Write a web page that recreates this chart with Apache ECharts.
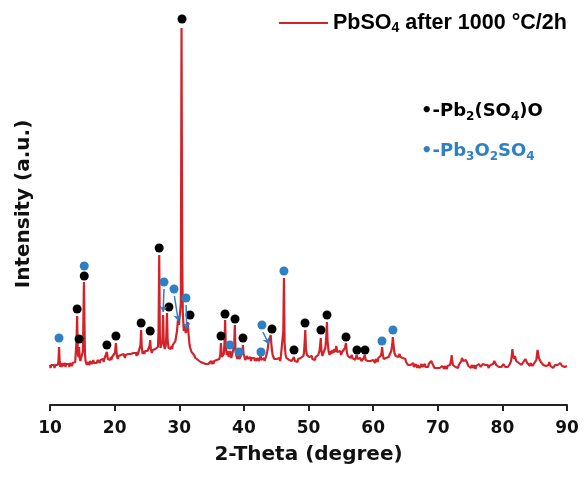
<!DOCTYPE html>
<html>
<head>
<meta charset="utf-8">
<script src="https://cdn.jsdelivr.net/npm/echarts@6/dist/echarts.min.js"></script>
<style>html,body{margin:0;padding:0;background:#fff;}#c{width:584px;height:482px;}</style>
</head>
<body>
<div id="c"></div>
<script>
// XRD pattern: [2-theta, intensity (a.u.)]
const pattern = [
[10.0,38],[10.1,35],[10.2,38],[10.3,36],[10.4,40],[10.5,36],[10.6,38],[10.7,35],[10.8,38],[10.9,36],
[11.0,39],[11.1,36],[11.2,38],[11.3,41],[11.4,56],[11.5,41],[11.6,36],[11.7,39],[11.8,36],[11.9,40],
[12.0,37],[12.1,39],[12.2,36],[12.3,40],[12.4,36],[12.5,39],[12.6,37],[12.7,40],[12.8,37],[12.9,39],
[13.0,36],[13.1,40],[13.2,38],[13.3,41],[13.4,37],[13.5,40],[13.6,38],[13.7,41],[13.8,39],[13.9,41],
[14.0,42],[14.1,62],[14.2,87],[14.3,50],[14.4,46],[14.5,56],[14.6,45],[14.7,42],[14.8,40],[14.9,43],
[15.0,42],[15.1,52],[15.25,121],[15.4,50],[15.5,42],[15.6,40],[15.7,38],[15.8,41],[15.9,42],[16.0,39],
[16.1,38],[16.2,42],[16.3,40],[16.4,42],[16.5,39],[16.6,41],[16.7,43],[16.8,40],[16.9,42],[17.0,39],
[17.1,42],[17.2,40],[17.3,39],[17.4,43],[17.5,41],[17.6,43],[17.7,40],[17.8,43],[17.9,44],[18.0,41],
[18.1,42],[18.2,44],[18.3,41],[18.4,44],[18.5,42],[18.65,46],[18.8,51],[18.95,44],[19.1,42],[19.2,45],
[19.3,43],[19.4,46],[19.5,43],[19.6,46],[19.7,44],[19.8,46],[19.9,44],[20.05,50],[20.2,60],[20.35,47],
[20.5,44],[20.6,47],[20.7,45],[20.8,48],[20.9,45],[21.0,48],[21.1,46],[21.2,49],[21.3,46],[21.4,49],
[21.5,47],[21.6,45],[21.7,48],[21.8,46],[21.9,50],[22.0,47],[22.1,49],[22.2,47],[22.3,50],[22.4,47],
[22.5,49],[22.6,47],[22.7,51],[22.8,48],[22.9,50],[23.0,48],[23.1,51],[23.2,48],[23.3,50],[23.4,47],
[23.5,51],[23.6,48],[23.7,51],[23.8,49],[23.9,52],[24.0,58],[24.1,73],[24.2,55],[24.35,49],[24.5,52],
[24.6,49],[24.7,52],[24.8,50],[24.9,53],[25.0,50],[25.1,52],[25.2,50],[25.3,53],[25.4,57],[25.5,63],
[25.6,54],[25.75,50],[25.9,53],[26.0,51],[26.1,53],[26.2,51],[26.3,54],[26.4,52],[26.5,54],[26.6,52],
[26.7,56],[26.8,72],[26.9,148],[27.0,68],[27.1,55],[27.25,53],[27.4,62],[27.5,88],[27.6,60],[27.75,54],
[27.9,57],[28.0,68],[28.1,90],[28.2,63],[28.35,55],[28.5,53],[28.6,56],[28.7,54],[28.8,57],[28.9,54],
[29.0,58],[29.1,56],[29.2,59],[29.3,60],[29.4,62],[29.5,64],[29.65,72],[29.8,83],[29.95,78],[30.1,80],
[30.25,100],[30.35,375],[30.45,150],[30.55,90],[30.7,72],[30.85,77],[31.0,70],[31.15,73],[31.3,81],[31.45,68],
[31.6,58],[31.7,55],[31.8,53],[31.9,51],[32.0,50],[32.1,52],[32.2,49],[32.3,48],[32.4,47],[32.5,45],
[32.6,47],[32.7,44],[32.8,45],[32.9,43],[33.0,45],[33.1,42],[33.2,44],[33.3,41],[33.4,43],[33.5,40],
[33.6,42],[33.7,40],[33.8,42],[33.9,39],[34.0,41],[34.1,39],[34.2,41],[34.3,38],[34.4,41],[34.5,39],
[34.6,38],[34.7,41],[34.8,39],[34.9,42],[35.0,39],[35.1,41],[35.2,42],[35.3,39],[35.4,42],[35.5,40],
[35.6,43],[35.7,40],[35.8,43],[35.9,41],[36.0,44],[36.1,42],[36.2,44],[36.35,48],[36.45,60],[36.6,46],
[36.75,44],[36.9,49],[37.0,60],[37.1,83],[37.2,56],[37.35,48],[37.5,52],[37.65,46],[37.8,49],[37.9,52],
[38.05,45],[38.2,49],[38.35,47],[38.5,57],[38.6,78],[38.7,53],[38.85,47],[39.0,44],[39.1,46],[39.2,49],
[39.3,44],[39.45,46],[39.6,45],[39.75,50],[39.85,58],[39.95,49],[40.1,46],[40.2,43],[40.3,45],[40.4,43],
[40.5,47],[40.6,44],[40.7,43],[40.8,46],[40.9,44],[41.0,46],[41.1,42],[41.2,45],[41.3,43],[41.4,46],
[41.5,43],[41.6,45],[41.7,42],[41.8,45],[41.9,42],[42.0,44],[42.1,42],[42.2,45],[42.3,42],[42.4,44],
[42.5,43],[42.6,47],[42.7,43],[42.8,44],[42.9,41],[43.0,44],[43.1,45],[43.2,42],[43.3,44],[43.4,46],
[43.5,48],[43.6,51],[43.7,55],[43.85,62],[44.0,60],[44.15,68],[44.3,55],[44.45,48],[44.6,46],[44.7,44],
[44.8,46],[44.9,43],[45.0,46],[45.1,44],[45.2,43],[45.3,46],[45.4,43],[45.5,45],[45.6,42],[45.7,45],
[45.8,44],[45.95,47],[46.1,72],[46.2,125],[46.3,60],[46.45,48],[46.6,45],[46.7,47],[46.8,44],[46.9,46],
[47.0,43],[47.1,45],[47.2,43],[47.3,45],[47.4,42],[47.5,44],[47.6,43],[47.75,46],[47.9,42],[48.0,44],
[48.1,42],[48.2,44],[48.3,41],[48.4,44],[48.5,42],[48.6,44],[48.7,42],[48.8,45],[48.9,43],[49.0,46],
[49.1,44],[49.2,47],[49.3,50],[49.4,60],[49.5,73],[49.6,54],[49.75,48],[49.9,46],[50.0,48],[50.1,46],
[50.2,48],[50.3,44],[50.4,46],[50.5,47],[50.6,44],[50.7,46],[50.8,43],[50.9,45],[51.0,43],[51.1,46],
[51.2,44],[51.3,47],[51.4,45],[51.5,48],[51.6,49],[51.7,52],[51.8,58],[51.9,65],[52.0,52],[52.15,47],
[52.3,50],[52.45,48],[52.6,55],[52.75,66],[52.85,81],[52.95,62],[53.1,52],[53.25,48],[53.4,52],[53.55,49],
[53.7,53],[53.85,50],[54.0,54],[54.15,51],[54.3,57],[54.45,51],[54.6,53],[54.75,50],[54.9,52],[55.05,48],
[55.2,51],[55.35,49],[55.5,53],[55.65,55],[55.8,60],[55.95,50],[56.1,47],[56.2,49],[56.3,47],[56.4,49],
[56.5,45],[56.6,47],[56.7,48],[56.8,45],[56.9,44],[57.0,47],[57.1,45],[57.2,43],[57.3,45],[57.45,48],
[57.6,44],[57.7,42],[57.8,44],[57.9,42],[58.0,45],[58.1,43],[58.2,42],[58.3,44],[58.4,43],[58.55,45],
[58.7,48],[58.85,43],[59.0,41],[59.1,43],[59.2,42],[59.3,40],[59.4,42],[59.5,40],[59.6,42],[59.7,40],
[59.8,42],[59.9,40],[60.0,43],[60.1,41],[60.2,42],[60.3,40],[60.4,44],[60.5,42],[60.6,43],[60.7,41],
[60.8,45],[60.9,43],[61.0,45],[61.15,47],[61.3,50],[61.4,56],[61.5,48],[61.65,44],[61.8,46],[61.9,43],
[62.0,45],[62.1,43],[62.2,47],[62.3,45],[62.4,46],[62.5,48],[62.6,49],[62.7,50],[62.8,52],[62.95,58],
[63.05,66],[63.15,58],[63.3,50],[63.4,48],[63.5,47],[63.6,49],[63.7,47],[63.8,49],[63.9,46],[64.0,48],
[64.1,49],[64.2,46],[64.3,47],[64.4,45],[64.5,48],[64.6,45],[64.7,44],[64.8,46],[64.9,43],[65.0,44],
[65.1,41],[65.2,39],[65.3,41],[65.4,38],[65.5,40],[65.6,37],[65.7,40],[65.8,38],[65.9,36],[66.0,39],
[66.1,37],[66.2,40],[66.3,36],[66.4,38],[66.5,36],[66.6,39],[66.7,37],[66.8,35],[66.9,38],[67.0,36],
[67.1,39],[67.2,35],[67.3,37],[67.4,36],[67.5,39],[67.6,36],[67.7,38],[67.8,35],[67.9,37],[68.0,39],
[68.1,36],[68.2,38],[68.3,35],[68.4,37],[68.5,36],[68.6,39],[68.7,37],[68.8,40],[68.9,39],[69.0,42],
[69.1,43],[69.2,39],[69.3,37],[69.4,38],[69.5,35],[69.6,37],[69.7,34],[69.8,36],[69.9,35],[70.0,37],
[70.1,34],[70.2,36],[70.3,35],[70.4,33],[70.5,36],[70.6,34],[70.7,37],[70.8,35],[70.9,36],[71.0,34],
[71.1,37],[71.2,35],[71.3,36],[71.4,34],[71.5,37],[71.6,35],[71.7,38],[71.8,36],[71.9,38],[72.0,40],
[72.1,44],[72.15,48],[72.25,42],[72.35,38],[72.45,40],[72.55,37],[72.65,39],[72.75,36],[72.85,38],[72.95,35],
[73.05,37],[73.15,35],[73.25,38],[73.35,36],[73.45,38],[73.55,40],[73.65,42],[73.75,45],[73.85,47],[73.95,42],
[74.05,40],[74.15,42],[74.25,40],[74.35,43],[74.45,44],[74.55,40],[74.65,38],[74.75,37],[74.85,39],[74.95,36],
[75.05,38],[75.15,35],[75.25,38],[75.35,36],[75.45,37],[75.55,35],[75.65,38],[75.75,36],[75.85,34],[75.95,37],
[76.05,35],[76.15,38],[76.25,36],[76.35,39],[76.45,37],[76.55,39],[76.65,36],[76.75,38],[76.85,37],[76.95,39],
[77.05,38],[77.15,40],[77.25,41],[77.35,38],[77.45,37],[77.55,39],[77.65,36],[77.75,38],[77.85,35],[77.95,37],
[78.05,35],[78.15,38],[78.25,36],[78.35,39],[78.45,37],[78.55,39],[78.65,41],[78.75,42],[78.85,44],[78.95,40],
[79.05,38],[79.15,40],[79.25,37],[79.35,38],[79.45,36],[79.55,38],[79.65,35],[79.75,37],[79.85,36],[79.95,38],
[80.05,36],[80.15,39],[80.25,37],[80.35,38],[80.45,36],[80.55,38],[80.65,35],[80.75,38],[80.85,36],[80.95,38],
[81.05,37],[81.15,39],[81.25,38],[81.35,42],[81.45,47],[81.55,54],[81.65,48],[81.75,46],[81.85,44],[81.95,47],
[82.05,45],[82.15,42],[82.25,44],[82.35,41],[82.45,43],[82.55,40],[82.65,42],[82.75,39],[82.85,41],[82.95,38],
[83.05,40],[83.15,38],[83.25,41],[83.35,39],[83.45,43],[83.55,44],[83.65,46],[83.75,42],[83.85,40],[83.95,41],
[84.05,38],[84.15,40],[84.25,37],[84.35,40],[84.45,38],[84.55,39],[84.65,37],[84.75,39],[84.85,37],[84.95,40],
[85.05,38],[85.15,40],[85.25,43],[85.35,48],[85.45,53],[85.55,55],[85.65,45],[85.75,43],[85.85,44],[85.95,41],
[86.05,42],[86.15,39],[86.25,41],[86.35,38],[86.45,40],[86.55,37],[86.65,39],[86.75,37],[86.85,38],[86.95,37],
[87.05,39],[87.15,38],[87.25,41],[87.35,39],[87.45,37],[87.55,38],[87.65,36],[87.75,38],[87.85,35],[87.95,37],
[88.05,35],[88.15,38],[88.25,36],[88.35,38],[88.45,36],[88.55,38],[88.65,37],[88.75,39],[88.85,38],[88.95,40],
[89.05,41],[89.15,39],[89.25,37],[89.35,38],[89.45,36],[89.55,38],[89.65,36],[89.75,37],[89.85,36],[90.0,37]
];

// Peak markers for Pb2(SO4)O (black)
const pb2so4oMarks = [
[14.2,94],[14.5,64],[15.3,127],[18.8,58],[20.2,67],[24.1,80],[25.5,72],[26.9,155],[28.4,96],
[30.43,384],[31.66,88],[36.46,67],[37.08,89],[38.63,84],[39.86,65],[44.35,74],[47.76,53],
[49.46,80],[51.93,73],[52.86,88],[55.8,66],[57.5,53],[58.74,53]
];

// Peak markers for Pb3O2SO4 (blue)
const pb3o2so4Marks = [
[11.39,65],[15.3,137],[27.64,121],[29.19,114],[31.04,105],[37.85,58],[39.25,51],
[42.8,78],[42.65,51],[46.2,132],[61.37,62],[63.07,73]
];

// Blue pointer arrows: [from, to]
const arrows = [
[[27.64,114],[27.5,91]],
[[29.25,107],[29.85,82]],
[[31.06,98],[31.15,74]],
[[42.95,71],[43.85,59]]
];

const xTicks = {min: 10, max: 90, interval: 10};
const seriesName = 'PbSO4 after 1000 °C/2h';

const RED = '#d2232a', BLUE = '#2f7fc3', FONT = 'DejaVu Sans', ARIAL = 'Liberation Sans, Arial, sans-serif';

const chart = echarts.init(document.getElementById('c'), null, {renderer: 'canvas'});
chart.setOption({
  animation: false,
  backgroundColor: '#fff',
  grid: {left: 50, right: 17, top: 3, bottom: 77},
  legend: {
    data: [seriesName],
    left: 279, top: 12, padding: 0,
    icon: 'rect', itemWidth: 49, itemHeight: 2, itemGap: 0,
    formatter: () => '{m|PbSO}{s|4}{m| after 1000 °C/2h}',
    textStyle: {
      rich: {
        m: {fontFamily: ARIAL, fontWeight: 'bold', fontSize: 21.5, color: '#000', lineHeight: 24},
        s: {fontFamily: ARIAL, fontWeight: 'bold', fontSize: 14, color: '#000', lineHeight: 12, verticalAlign: 'bottom'}
      }
    }
  },
  xAxis: {
    type: 'value', min: xTicks.min, max: xTicks.max, interval: xTicks.interval,
    axisLine: {show: true, onZero: false, lineStyle: {color: '#222', width: 2}},
    axisTick: {show: true, length: 6, lineStyle: {color: '#222', width: 2}},
    axisLabel: {fontFamily: FONT, fontWeight: 'bold', fontSize: 17, color: '#111', margin: 15},
    splitLine: {show: false},
    name: '2-Theta (degree)', nameLocation: 'middle', nameGap: 40,
    nameTextStyle: {fontFamily: FONT, fontWeight: 'bold', fontSize: 20, color: '#111'}
  },
  yAxis: {
    type: 'value', min: -2, max: 400,
    axisLine: {show: false}, axisTick: {show: false}, axisLabel: {show: false}, splitLine: {show: false},
    name: 'Intensity (a.u.)', nameLocation: 'middle', nameGap: 16, nameRotate: 90,
    nameTextStyle: {fontFamily: FONT, fontWeight: 'bold', fontSize: 20, color: '#111'}
  },
  series: [
    {
      name: seriesName, type: 'line', data: pattern, symbol: 'none', showSymbol: false, smooth: false,
      lineStyle: {color: RED, width: 2.2}, itemStyle: {color: RED}, z: 2
    },
    {
      name: 'Pb2(SO4)O', type: 'scatter', data: pb2so4oMarks, symbol: 'circle', symbolSize: 9,
      itemStyle: {color: '#000', opacity: 1}, z: 4
    },
    {
      name: 'Pb3O2SO4', type: 'scatter', data: pb3o2so4Marks, symbol: 'circle', symbolSize: 9,
      itemStyle: {color: BLUE, opacity: 1}, z: 4
    },
    {
      type: 'lines', coordinateSystem: 'cartesian2d', z: 5,
      symbol: ['none', 'arrow'], symbolSize: 6,
      lineStyle: {color: BLUE, width: 1.5, opacity: 1},
      data: arrows.map(a => ({coords: a}))
    }
  ],
  graphic: [
    {
      type: 'text', left: 421, top: 102,
      style: {
        text: '{m|•-Pb}{s|2}{m|(SO}{s|4}{m|)O}',
        rich: {
          m: {fontFamily: FONT, fontWeight: 'bold', fontSize: 18, fill: '#000', lineHeight: 24},
          s: {fontFamily: FONT, fontWeight: 'bold', fontSize: 12, fill: '#000', lineHeight: 12, verticalAlign: 'bottom'}
        }
      }
    },
    {
      type: 'text', left: 421, top: 142,
      style: {
        text: '{m|•-Pb}{s|3}{m|O}{s|2}{m|SO}{s|4}',
        rich: {
          m: {fontFamily: FONT, fontWeight: 'bold', fontSize: 18, fill: BLUE, lineHeight: 24},
          s: {fontFamily: FONT, fontWeight: 'bold', fontSize: 12, fill: BLUE, lineHeight: 12, verticalAlign: 'bottom'}
        }
      }
    }
  ]
});
</script>
</body>
</html>
